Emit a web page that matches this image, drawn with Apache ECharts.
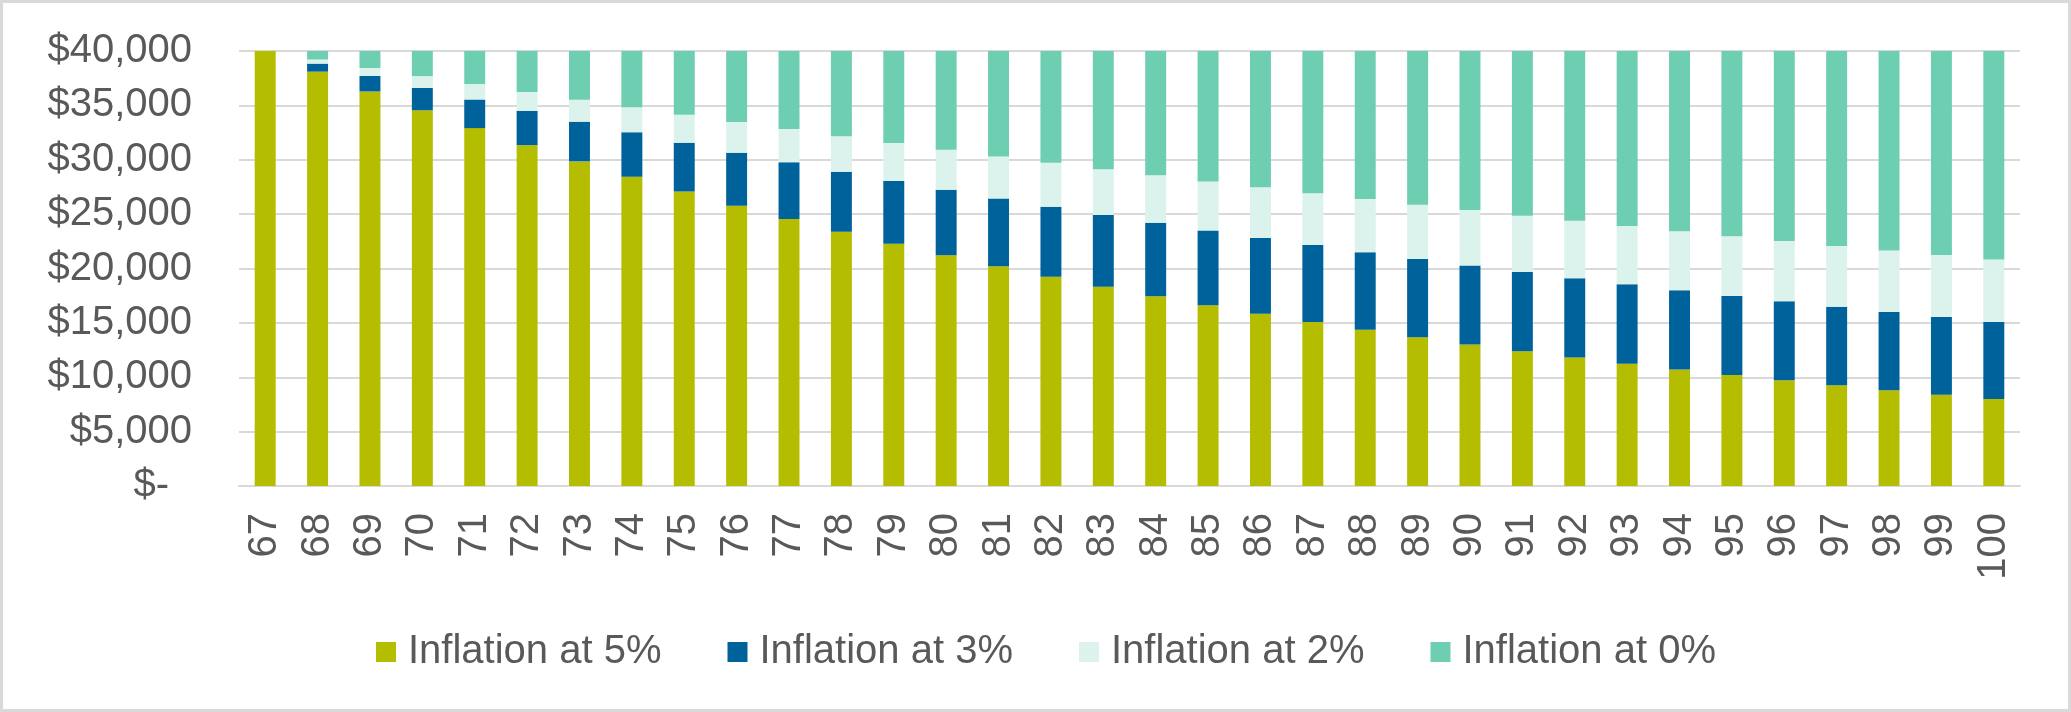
<!DOCTYPE html>
<html>
<head>
<meta charset="utf-8">
<script src="https://cdn.jsdelivr.net/npm/echarts@6/dist/echarts.min.js"></script>
<style>
html,body{margin:0;padding:0;background:#fff;}
#wrap{width:2071px;height:712px;box-sizing:border-box;border:3px solid #d9d9d9;position:relative;}
#chart{position:absolute;left:-3px;top:-3px;width:2071px;height:712px;}
</style>
</head>
<body>
<div id="wrap"><div id="chart"></div></div>
<script>
// Ages (categories)
const ages = ['67','68','69','70','71','72','73','74','75','76','77','78','79','80','81','82','83','84','85','86','87','88','89','90','91','92','93','94','95','96','97','98','99','100'];
// Stack segment heights (in $)
const seg5 = [40000,38100,36280,34550,32910,31340,29850,28430,27070,25780,24560,23390,22270,21210,20200,19240,18320,17450,16620,15830,15080,14360,13670,13020,12400,11810,11250,10710,10200,9720,9260,8810,8400,8000];
const seg3 = [0,740,1420,2050,2630,3160,3650,4100,4500,4870,5210,5510,5780,6030,6240,6430,6600,6750,6880,6980,7070,7140,7200,7250,7270,7290,7300,7290,7280,7260,7220,7190,7140,7090];
const seg2 = [0,380,740,1090,1420,1730,2020,2300,2560,2810,3050,3270,3490,3680,3870,4050,4210,4370,4510,4650,4770,4890,5000,5100,5190,5280,5350,5430,5490,5550,5600,5650,5690,5730];
const seg0 = [0,780,1560,2310,3040,3770,4480,5170,5870,6540,7180,7830,8460,9080,9690,10280,10870,11430,11990,12540,13080,13610,14130,14630,15140,15620,16100,16570,17030,17470,17920,18350,18770,19180];
const seriesNames = ['Inflation at 5%','Inflation at 3%','Inflation at 2%','Inflation at 0%'];
const seriesColors = ['#b5bd00','#00629b','#dcf2ec','#6dceb2'];
const yTicks = {min:0, max:40000, interval:5000};

const FONT = '"Liberation Sans", Arial, sans-serif';
const TXT = '#595959';
const chart = echarts.init(document.getElementById('chart'), null, {renderer:'canvas'});
const dataSets = [seg5, seg3, seg2, seg0];
chart.setOption({
  animation:false,
  backgroundColor:'transparent',
  textStyle:{fontFamily:FONT},
  grid:{left:239, right:51, top:51, bottom:226, containLabel:false},
  legend:{
    data:seriesNames,
    left:371, top:627,
    icon:'rect', itemWidth:20, itemHeight:20, itemGap:66,
    textStyle:{fontSize:40, color:TXT, fontFamily:FONT, padding:[0,0,0,7], lineHeight:40}
  },
  xAxis:{
    type:'category', data:ages,
    axisLine:{show:true, lineStyle:{color:'#d9d9d9', width:2}},
    axisTick:{show:false},
    axisLabel:{rotate:90, fontSize:40, color:TXT, fontFamily:FONT, margin:27, interval:0}
  },
  yAxis:{
    type:'value', min:yTicks.min, max:yTicks.max, interval:yTicks.interval,
    axisLine:{show:false}, axisTick:{show:false},
    splitLine:{show:true, lineStyle:{color:'#d9d9d9', width:2}},
    axisLabel:{
      fontSize:40, color:TXT, fontFamily:FONT, margin:47,
      formatter:function(v){ return v===0 ? '{z|$-}' : '$' + v.toLocaleString('en-US'); },
      rich:{z:{fontSize:40, color:TXT, fontFamily:FONT, padding:[0,23,0,0]}}
    }
  },
  series: dataSets.map(function(d,i){
    return {
      name:seriesNames[i], type:'bar', stack:'total', data:d,
      barCategoryGap:'60%',
      itemStyle:{color:seriesColors[i]},
      emphasis:{disabled:true}
    };
  })
});
</script>
</body>
</html>
